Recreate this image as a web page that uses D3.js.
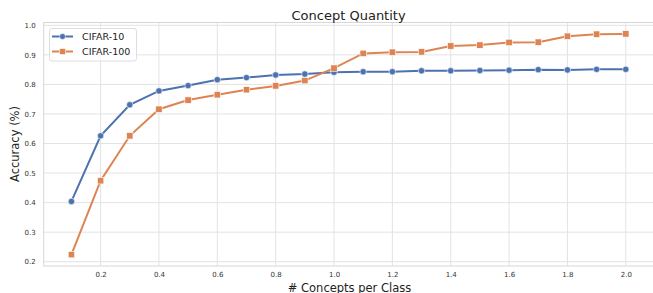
<!DOCTYPE html>
<html><head><meta charset="utf-8">
<script src="https://cdn.jsdelivr.net/npm/d3@7"></script>
<style>
html,body{margin:0;padding:0;background:#fff;}
svg{display:block;font-family:"DejaVu Sans",sans-serif;}
</style></head>
<body>
<svg id="c" width="653" height="293"></svg>
<script>
const xValues = [0.1,0.2,0.3,0.4,0.5,0.6,0.7,0.8,0.9,1.0,1.1,1.2,1.3,1.4,1.5,1.6,1.7,1.8,1.9,2.0];
const cifar10 = [0.404,0.626,0.731,0.778,0.796,0.816,0.823,0.832,0.835,0.841,0.843,0.843,0.846,0.846,0.847,0.848,0.850,0.849,0.851,0.851];
const cifar100 = [0.224,0.474,0.626,0.716,0.747,0.765,0.782,0.795,0.813,0.855,0.905,0.909,0.910,0.930,0.933,0.942,0.943,0.963,0.970,0.971];
const seriesNames = ["CIFAR-10","CIFAR-100"];
const xTicks = [0.2,0.4,0.6,0.8,1.0,1.2,1.4,1.6,1.8,2.0];
const yTicks = [0.2,0.3,0.4,0.5,0.6,0.7,0.8,0.9,1.0];
const title = "Concept Quantity";
const xLabel = "# Concepts per Class";
const yLabel = "Accuracy (%)";

const colors = ["#4c72b0","#dd8452"];
const L = 43.7, R = 653.5, T = 22.5, B = 266;
const svg = d3.select("#c");
const x = d3.scaleLinear().domain([0.005, 2.095]).range([L, R]);
const y = d3.scaleLinear().domain([0.1855, 1.0095]).range([B, T]);

// grid
const g = svg.append("g");
g.selectAll(".gx").data(xTicks).join("line")
  .attr("x1", d=>x(d)).attr("x2", d=>x(d)).attr("y1", T).attr("y2", B)
  .attr("stroke", "#e3e3e3").attr("stroke-width", 1);
g.selectAll(".gy").data(yTicks).join("line")
  .attr("x1", L).attr("x2", R).attr("y1", d=>y(d)).attr("y2", d=>y(d))
  .attr("stroke", "#e3e3e3").attr("stroke-width", 1);
// spines
svg.append("rect").attr("x", L).attr("y", T).attr("width", R-L).attr("height", B-T)
  .attr("fill", "none").attr("stroke", "#d6d6d6").attr("stroke-width", 1);

// axes
const xAxis = svg.append("g").attr("transform", `translate(0,${B})`)
  .call(d3.axisBottom(x).tickValues(xTicks).tickFormat(d3.format(".1f")).tickSize(0).tickPadding(6));
const yAxis = svg.append("g").attr("transform", `translate(${L},0)`)
  .call(d3.axisLeft(y).tickValues(yTicks).tickFormat(d3.format(".1f")).tickSize(0).tickPadding(8));
[xAxis, yAxis].forEach(a => {
  a.select(".domain").remove();
  a.selectAll("text").attr("fill", "#333").style("font-size", "7px").style("font-family", "DejaVu Sans");
});

// lines
const series = [cifar10, cifar100];
const line = d3.line().x((d,i)=>x(xValues[i])).y(d=>y(d));
series.forEach((s, k) => {
  svg.append("path").datum(s).attr("d", line).attr("fill", "none")
    .attr("stroke", colors[k]).attr("stroke-width", 2);
});
// markers
svg.selectAll(".m0").data(cifar10).join("circle")
  .attr("cx", (d,i)=>x(xValues[i])).attr("cy", d=>y(d)).attr("r", 3.2)
  .attr("fill", colors[0]).attr("stroke", "#fff").attr("stroke-width", 0.6);
svg.selectAll(".m1").data(cifar100).join("rect")
  .attr("x", (d,i)=>x(xValues[i])-3.2).attr("y", d=>y(d)-3.2).attr("width", 6.4).attr("height", 6.4)
  .attr("fill", colors[1]).attr("stroke", "#fff").attr("stroke-width", 0.6);

// title & labels
svg.append("text").attr("x", (L+R)/2).attr("y", 19.5).attr("text-anchor", "middle")
  .style("font-size", "13px").attr("fill", "#222").text(title);
svg.append("text").attr("x", 349.5).attr("y", 291.5).attr("text-anchor", "middle")
  .style("font-size", "11.5px").attr("fill", "#222").text(xLabel);
svg.append("text").attr("transform", `translate(19,144) rotate(-90)`).attr("text-anchor", "middle")
  .style("font-size", "11.5px").attr("fill", "#222").text(yLabel);

// legend
const lg = svg.append("g");
lg.append("rect").attr("x", 49.5).attr("y", 28.5).attr("width", 87).attr("height", 32.5)
  .attr("rx", 2.5).attr("fill", "#fff").attr("fill-opacity", 0.85).attr("stroke", "#d6d6d6").attr("stroke-width", 0.8);
seriesNames.forEach((n, k) => {
  const cy = 36.5 + k*15;
  lg.append("line").attr("x1", 52).attr("x2", 73).attr("y1", cy).attr("y2", cy)
    .attr("stroke", colors[k]).attr("stroke-width", 2);
  if (k === 0) lg.append("circle").attr("cx", 62.5).attr("cy", cy).attr("r", 3).attr("fill", colors[k]).attr("stroke", "#fff").attr("stroke-width", 0.6);
  else lg.append("rect").attr("x", 59.5).attr("y", cy-3).attr("width", 6).attr("height", 6).attr("fill", colors[k]).attr("stroke", "#fff").attr("stroke-width", 0.6);
  lg.append("text").attr("x", 82).attr("y", cy).attr("dy", "0.35em")
    .style("font-size", "9.5px").attr("fill", "#222").text(n);
});
</script>
</body></html>
